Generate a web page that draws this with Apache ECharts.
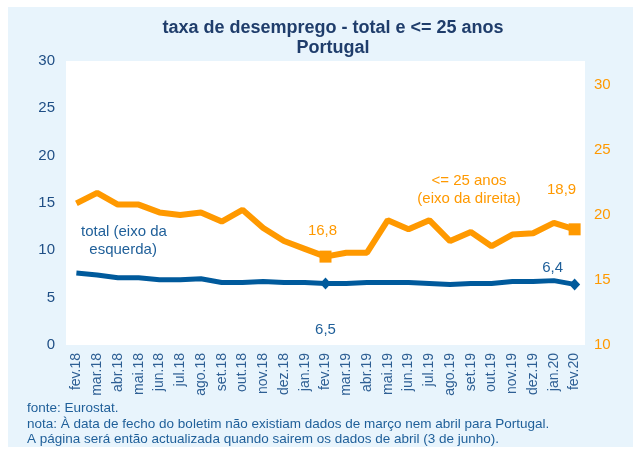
<!DOCTYPE html>
<html>
<head>
<meta charset="utf-8">
<script src="https://cdn.jsdelivr.net/npm/echarts@6/dist/echarts.min.js"></script>
<style>
  html, body { margin: 0; padding: 0; background: #fff; }
  #wrap { position: relative; width: 633px; height: 450px; }
  #bg { position: absolute; left: 8px; top: 7px; right: 0; bottom: 3px; background: #e8f4fc; }
  #chart { position: absolute; left: 0; top: 0; width: 633px; height: 450px; }
</style>
</head>
<body>
<div id="wrap">
  <div id="bg"></div>
  <div id="chart"></div>
</div>
<script>
// meses (fev.18 .. fev.20)
const months = ['fev.18', 'mar.18', 'abr.18', 'mai.18', 'jun.18', 'jul.18', 'ago.18', 'set.18',
  'out.18', 'nov.18', 'dez.18', 'jan.19', 'fev.19', 'mar.19', 'abr.19', 'mai.19', 'jun.19',
  'jul.19', 'ago.19', 'set.19', 'out.19', 'nov.19', 'dez.19', 'jan.20', 'fev.20']

// taxa de desemprego total (eixo da esquerda)
const total = [7.6, 7.4, 7.1, 7.1, 6.9, 6.9, 7.0, 6.6, 6.6, 6.7, 6.6, 6.6, 6.5,
  6.5, 6.6, 6.6, 6.6, 6.5, 6.4, 6.5, 6.5, 6.7, 6.7, 6.8, 6.4]

// taxa de desemprego <= 25 anos (eixo da direita)
const jovens = [20.9, 21.7, 20.8, 20.8, 20.2, 20.0, 20.2, 19.5, 20.4, 19.0, 18.0, 17.4, 16.8,
  17.1, 17.1, 19.6, 18.9, 19.6, 18.0, 18.7, 17.6, 18.5, 18.6, 19.4, 18.9]

const leftTicks = [0, 30, 5]
const rightTicks = [10, 30, 5]

const orange = '#ff9900'
const blue = '#005a9c'
const txtBlue = '#1f5f99'
const font = 'Liberation Sans, Arial, sans-serif'

const fmt = v => v.toFixed(1).replace('.', ',')

// pontos marcados: fev.19 e fev.20
const marked = [12, 24]

const totalData = total.map((v, i) => {
  if (!marked.includes(i)) return v
  const last = i === months.length - 1
  return {
    value: v,
    symbol: 'diamond',
    symbolSize: [11, 12],
    label: {
      show: true,
      position: last ? 'top' : 'bottom',
      offset: last ? [-22, 2] : [0, 28],
      formatter: p => fmt(p.value),
      color: txtBlue,
      fontSize: 15,
      fontFamily: font
    }
  }
})

const jovensData = jovens.map((v, i) => {
  if (!marked.includes(i)) return v
  const last = i === months.length - 1
  return {
    value: v,
    symbol: 'rect',
    symbolSize: [12, 12],
    label: {
      show: true,
      position: 'top',
      offset: last ? [-13, -21] : [-3, -7],
      formatter: p => fmt(p.value),
      color: orange,
      fontSize: 15,
      fontFamily: font
    }
  }
})

const chart = echarts.init(document.getElementById('chart'), null, { renderer: 'canvas' })

chart.setOption({
  animation: false,
  textStyle: { fontFamily: font },
  title: {
    text: 'taxa de desemprego - total e <= 25 anos\nPortugal',
    left: 328,
    top: 13,
    textAlign: 'center',
    textStyle: { color: '#1f3d6b', fontSize: 18, fontWeight: 'bold', lineHeight: 20, fontFamily: font }
  },
  grid: { left: 66, right: 48, top: 61, bottom: 105, show: true, backgroundColor: '#fff', borderWidth: 0 },
  xAxis: {
    type: 'category',
    data: months,
    boundaryGap: true,
    axisLine: { show: false },
    axisTick: { show: false },
    axisLabel: { rotate: 90, interval: 0, color: '#2e5f94', fontSize: 14, margin: 8 }
  },
  yAxis: [
    {
      type: 'value',
      min: leftTicks[0], max: leftTicks[1], interval: leftTicks[2],
      splitLine: { show: false },
      axisLine: { show: false },
      axisTick: { show: false },
      axisLabel: { color: '#1f4e85', fontSize: 15, margin: 11 }
    },
    {
      type: 'value',
      min: rightTicks[0], max: 31.85, interval: rightTicks[2],
      splitLine: { show: false },
      axisLine: { show: false },
      axisTick: { show: false },
      axisLabel: { color: orange, fontSize: 15, margin: 9, showMaxLabel: false }
    }
  ],
  series: [
    {
      name: 'total',
      type: 'line',
      yAxisIndex: 0,
      data: totalData,
      showSymbol: true,
      symbol: 'none',
      lineStyle: { color: blue, width: 5 },
      itemStyle: { color: blue },
      z: 3
    },
    {
      name: '<= 25 anos',
      type: 'line',
      yAxisIndex: 1,
      data: jovensData,
      showSymbol: true,
      symbol: 'none',
      lineStyle: { color: orange, width: 6 },
      itemStyle: { color: orange },
      z: 2
    }
  ],
  graphic: [
    {
      type: 'text', x: 81, y: 223,
      style: { text: 'total (eixo da\n  esquerda)', fill: txtBlue, fontSize: 15, lineHeight: 18, fontFamily: font }
    },
    {
      type: 'text', x: 469, y: 172,
      style: { text: '<= 25 anos\n(eixo da direita)', fill: orange, fontSize: 15, lineHeight: 18, align: 'center', fontFamily: font }
    },
    {
      type: 'text', x: 27, y: 401,
      style: {
        text: 'fonte: Eurostat.\nnota: À data de fecho do boletim não existiam dados de março nem abril para Portugal.\nA página será então actualizada quando sairem os dados de abril (3 de junho).',
        fill: txtBlue, fontSize: 13.5, lineHeight: 15.5, fontFamily: font
      }
    }
  ]
})
</script>
</body>
</html>
